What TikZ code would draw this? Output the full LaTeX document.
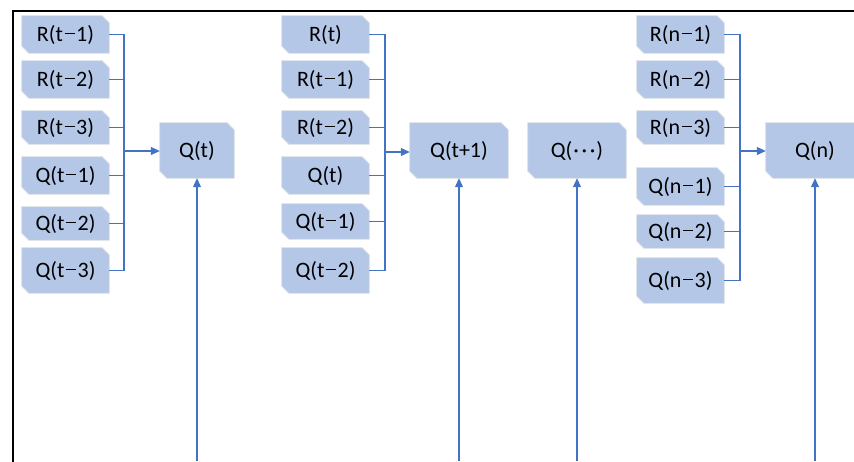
\documentclass[tikz,border=0pt]{standalone}
\usepackage{fontspec}
\setmainfont{Carlito}
\usetikzlibrary{arrows.meta,backgrounds}
\definecolor{boxfill}{HTML}{B4C7E7}
\definecolor{boxline}{HTML}{D5DBE4}
\definecolor{conn}{HTML}{4472C4}
\newcommand\mnus{\kern0.07em\rule[0.31em]{0.46em}{0.06em}\kern0.07em}
\newcommand\mdots{\kern0.05em·\kern0.12em·\kern0.12em·\kern0.05em}
\tikzset{
  snip/.style={inner sep=0pt, font=\fontsize{22}{26}\selectfont},
  snipfill/.style={fill=boxfill, draw=boxline, line width=0.8pt},
  link/.style={draw=conn, line width=1.1pt},
  arr/.style={link, -{Triangle[length=9pt,width=8pt]}},
  uparr/.style={draw=conn, line width=1.1pt, -{Triangle[length=9pt,width=8pt]}},
  frame/.style={draw=black, line width=2pt},
}
\newcommand\snipnode[6]{%
  \node[snip, minimum width={(#3-#2)*1pt}, minimum height={(#5-#4)*1pt}] (#1) at ({(#2+#3)/2},{(#4+#5)/2}) {#6};
  \begin{scope}[on background layer]
    \filldraw[snipfill] (#1.north west) -- ([xshift=-7pt]#1.north east) -- ([yshift=-7pt]#1.north east)
      -- (#1.south east) -- ([xshift=7pt]#1.south west) -- ([yshift=7pt]#1.south west) -- cycle;
  \end{scope}}
\begin{document}
\begin{tikzpicture}[x=1pt,y=-1pt]
\useasboundingbox (0,0) rectangle (854,461);
\clip (0,0) rectangle (854,461);
\draw[frame] (13,470) -- (13,11) -- (870,11);

% left group
\snipnode{a1}{22}{109}{16}{53}{R(t\mnus1)}
\snipnode{a2}{22}{109}{61}{98}{R(t\mnus2)}
\snipnode{a3}{22}{109}{111}{144}{R(t\mnus3)}
\snipnode{a4}{22}{109}{157}{194}{Q(t\mnus1)}
\snipnode{a5}{22}{109}{207}{240}{Q(t\mnus2)}
\snipnode{a6}{22}{109}{248}{293}{Q(t\mnus3)}
\snipnode{qa}{160}{234}{123}{178}{Q(t)}

% middle group
\snipnode{b1}{282}{369}{16}{53}{R(t)}
\snipnode{b2}{282}{369}{61}{98}{R(t\mnus1)}
\snipnode{b3}{282}{369}{111}{144}{R(t\mnus2)}
\snipnode{b4}{282}{369}{157}{194}{Q(t)}
\snipnode{b5}{282}{369}{204}{239}{Q(t\mnus1)}
\snipnode{b6}{282}{369}{248}{293}{Q(t\mnus2)}
\snipnode{qb}{410}{508}{123}{178}{Q(t+1)}

\snipnode{qc}{528}{626}{123}{178}{Q(\mdots)}

% right group
\snipnode{c1}{637}{724}{16}{53}{R(n\mnus1)}
\snipnode{c2}{637}{724}{61}{98}{R(n\mnus2)}
\snipnode{c3}{637}{724}{111}{144}{R(n\mnus3)}
\snipnode{c4}{637}{724}{168}{205}{Q(n\mnus1)}
\snipnode{c5}{637}{724}{215}{248}{Q(n\mnus2)}
\snipnode{c6}{637}{724}{258}{303}{Q(n\mnus3)}
\snipnode{qd}{766}{864}{123}{178}{Q(n)}

% buses
\coordinate (ba) at (124,151);
\coordinate (bb) at (385,152);
\coordinate (bc) at (740,151);
\foreach \n in {a1,a2,a3,a4,a5,a6} \draw[link] (\n.east) -| (ba);
\foreach \n in {b1,b2,b3,b4,b5,b6} \draw[link] (\n.east) -| (bb);
\foreach \n in {c1,c2,c3,c4,c5,c6} \draw[link] (\n.east) -| (bc);
\draw[arr] (ba) -- (ba -| qa.west);
\draw[arr] (bb) -- (bb -| qb.west);
\draw[arr] (bc) -- (bc -| qd.west);

% vertical inputs from below
\coordinate (sa) at (197,461);
\coordinate (sb) at (459,461);
\coordinate (sc) at (577,461);
\coordinate (sd) at (815,461);
\draw[uparr] (sa) -- (qa.south);
\draw[uparr] (sb) -- (qb.south);
\draw[uparr] (sc) -- (qc.south);
\draw[uparr] (sd) -- (qd.south);
\end{tikzpicture}
\end{document}
